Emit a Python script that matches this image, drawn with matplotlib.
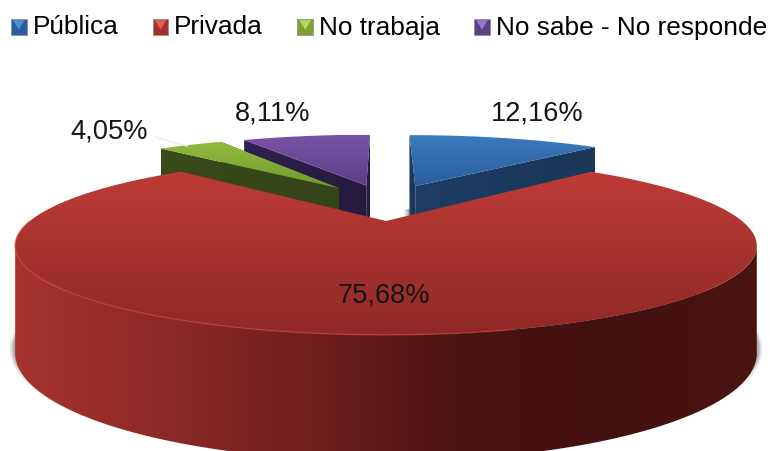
import matplotlib
matplotlib.use('Agg')
import matplotlib.pyplot as plt
import numpy as np
from matplotlib.colors import LinearSegmentedColormap
from matplotlib.legend_handler import HandlerPatch
from matplotlib.patches import Patch, Polygon, Rectangle

plt.rcParams['font.family'] = ['Liberation Sans', 'DejaVu Sans']

categories = ['Pública', 'Privada', 'No trabaja', 'No sabe - No responde']
values = [12.16, 75.68, 4.05, 8.11]
pct_labels = ['12,16%', '75,68%', '4,05%', '8,11%']

# colours: top face (back, front), wall (left ... right)
top_cols = [('#3C7AC0', '#2A5E9C'), ('#BE3B37', '#8F2926'), ('#93BC3E', '#6E9A2C'), ('#7A52A6', '#5C3E84')]
wall_cols = [('#1D3D64', '#1A3658'),
             ('#A8332F', '#8C2A27', '#701F1C', '#4A1411', '#431110', '#4A1411'),
             ('#3A4A18', '#36441A'), ('#2F2250', '#261A3E')]
label_pos = [(537, 113), (384, 295), (109, 131), (273, 113)]

# projection of the pie plane to pixels
CX, CY = 386, 221
RX, AY = 356, 82
K, K2 = 0.28, 0.20
DEPTH = 101
EXPLODE = 0.25


def project(x, y, z=0.0):
    y = np.asarray(y) + EXPLODE
    x = np.asarray(x)
    w = 1 + K * y
    return CX + RX * x / w, CY - AY * y / w + z * DEPTH / (1 + K2 * y)


def grad_fill(ax, xs, ys, cols, horizontal=False):
    pts = np.column_stack([xs, ys])
    poly = Polygon(pts, closed=True, transform=ax.transData, fc='none', ec='none')
    ax.add_patch(poly)
    cmap = LinearSegmentedColormap.from_list('g', list(cols))
    g = np.linspace(0, 1, 256)
    if horizontal:
        extent = (xs.min(), xs.max(), ys.max() + 1, ys.min() - 1)
        img = g.reshape(1, -1)
    else:
        extent = (xs.min() - 1, xs.max() + 1, ys.max(), ys.min())
        img = g.reshape(-1, 1)
    im = ax.imshow(img, cmap=cmap, extent=extent, aspect='auto', vmin=0, vmax=1, zorder=poly.get_zorder())
    im.set_clip_path(poly)
    return im


class HandlerBox(HandlerPatch):
    def create_artists(self, legend, orig_handle, xdescent, ydescent, width, height, fontsize, trans):
        x0 = -xdescent
        y0 = -ydescent
        s = 11.3
        box = Rectangle((x0, y0), s, s, fc=orig_handle.get_facecolor(), ec='#8A8A8A', lw=0.5, transform=trans)
        tri = Polygon([(x0 + 1.5, y0 + s - 1), (x0 + s - 1.5, y0 + s - 1), (x0 + s / 2, y0 + 3.5)],
                      fc=orig_handle.get_edgecolor(), ec='none', transform=trans)
        return [box, tri]


fig = plt.figure(figsize=(7.74, 4.51), dpi=100)
ax = fig.add_axes([0, 0, 1, 1])

wedges, _ = ax.pie(values, startangle=90, counterclock=False, explode=[EXPLODE] * 4)
ax.set_aspect('auto')
slices = []
for w in wedges:
    slices.append((w.center[0], w.center[1], w.r, w.theta1, w.theta2))
    w.remove()

ax.set_xlim(0, 774)
ax.set_ylim(451, 0)
ax.axis('off')

# soft shadow under every slice
for i in [3, 2, 0, 1]:
    cx, cy, r, t1, t2 = slices[i]
    th = np.radians(np.linspace(t1, t2, 200))
    sx, sy = project(np.r_[cx, cx + r * np.cos(th)], np.r_[cy, cy + r * np.sin(th)], 1.0)
    mid = sx.mean()
    for off, a in zip([6, 5, 4, 3, 2], [0.05, 0.08, 0.12, 0.16, 0.2]):
        gx = sx + np.sign(sx - mid) * off if i == 1 else sx - off
        ax.add_patch(Polygon(np.column_stack([gx, sy + off * 0.3 - 5]), fc='#555555', ec='none', alpha=a))

ax.plot([155, 187], [137, 146], color='#EEEEEE', lw=1)

# back slices first, the big red one last
for i in [3, 2, 0, 1]:
    cx, cy, r, t1, t2 = slices[i]
    th = np.radians(np.linspace(t1, t2, 400))
    ax_x = cx + r * np.cos(th)
    ax_y = cy + r * np.sin(th)
    tx, ty = project(ax_x, ax_y, 0.0)
    bx, by = project(ax_x, ax_y, 1.0)

    if i == 1:
        # only the part of the wall that faces us
        a, b = sorted([np.argmin(tx), np.argmax(tx)])
        grad_fill(ax, np.r_[tx[a:b], bx[a:b][::-1]], np.r_[ty[a:b], by[a:b][::-1]], wall_cols[i], horizontal=True)
    else:
        # two cut faces
        for k in (0, -1):
            fx = np.array([cx, ax_x[k]])
            fy = np.array([cy, ax_y[k]])
            px0, py0 = project(fx, fy, 0.0)
            px1, py1 = project(fx, fy, 1.0)
            grad_fill(ax, np.r_[px0, px1[::-1]], np.r_[py0, py1[::-1]], wall_cols[i], horizontal=True)

    # top face
    px, py = project(np.r_[cx, ax_x], np.r_[cy, ax_y], 0.0)
    grad_fill(ax, px, py, top_cols[i])

    if i == 1:
        # light bevel on the front rim
        deg = np.degrees(th) % 360
        keep = (deg > 180) & (deg < 285)
        ax.plot(tx[keep], ty[keep], color='#C8423D', lw=1.1, alpha=0.6, solid_capstyle='round')

ax.set_xlim(0, 774)
ax.set_ylim(451, 0)

for lab, (lx, ly) in zip(pct_labels, label_pos):
    ax.text(lx, ly, lab, fontsize=19.6, color='#151515', ha='center', va='center')

leg_cols = [('#2A5F9E', '#4A8FD6'), ('#A8302C', '#E0605A'), ('#7FA032', '#B5D860'), ('#5F4088', '#9A78C8')]
handles = [Patch(facecolor=f, edgecolor=e, label=n) for (f, e), n in zip(leg_cols, categories)]
ax.legend(handles=handles, ncol=4, frameon=False, fontsize=18.9, loc='upper left',
          bbox_to_anchor=(11 / 774, 1 - 15.5 / 451), bbox_transform=fig.transFigure,
          handler_map={Patch: HandlerBox()}, handlelength=0.57, handletextpad=0.25,
          columnspacing=1.31, borderpad=0, borderaxespad=0)

fig.savefig('out.png', dpi=100)
